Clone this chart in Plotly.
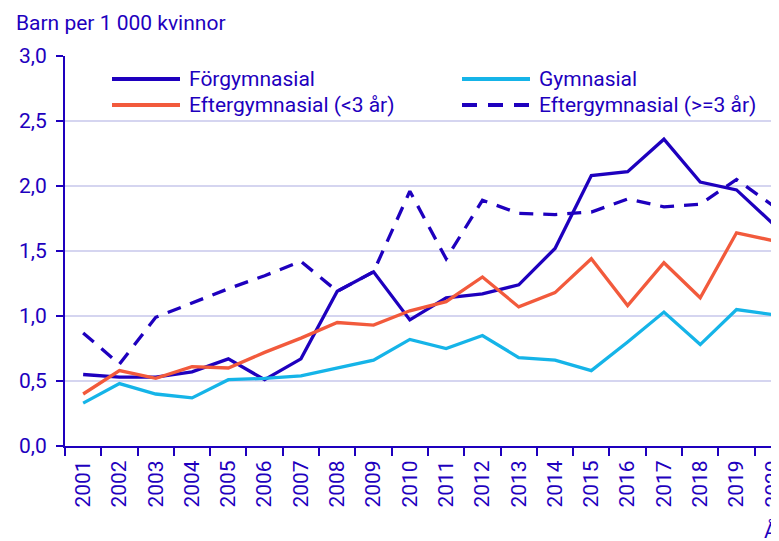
import plotly.graph_objects as go

years = [str(y) for y in range(2001, 2021)]
forgymnasial = [0.55, 0.53, 0.53, 0.57, 0.67, 0.51, 0.67, 1.19, 1.34, 0.97,
                1.14, 1.17, 1.24, 1.52, 2.08, 2.11, 2.36, 2.03, 1.97, 1.71]
gymnasial = [0.33, 0.48, 0.40, 0.37, 0.51, 0.52, 0.54, 0.60, 0.66, 0.82,
             0.75, 0.85, 0.68, 0.66, 0.58, 0.80, 1.03, 0.78, 1.05, 1.01]
efter_lt3 = [0.40, 0.58, 0.52, 0.61, 0.60, 0.72, 0.83, 0.95, 0.93, 1.04,
             1.11, 1.30, 1.07, 1.18, 1.44, 1.08, 1.41, 1.14, 1.64, 1.58]
efter_ge3 = [0.87, 0.63, 0.99, 1.10, 1.21, 1.31, 1.42, 1.19, 1.34, 1.96,
             1.44, 1.89, 1.79, 1.78, 1.80, 1.90, 1.84, 1.86, 2.05, 1.85]
y_ticks = [0.0, 0.5, 1.0, 1.5, 2.0, 2.5, 3.0]

DARK = "#1E00BE"
LIGHT = "#15B4E8"
ORANGE = "#F25A3C"
GRID = "#D5D5F0"
FONT = "Roboto"

# the page body has an 8px margin; size the figure so it fills the window
OFF = 8
W, H = 779 - OFF, 541 - OFF
# plot area in window pixels: x 65..779, y 56..446
L, R, T, B = 65 - OFF, 0, 56 - OFF, 541 - 446
pw, ph = W - L - R, H - T - B

series = [
    ("Förgymnasial", forgymnasial, DARK, "solid"),
    ("Gymnasial", gymnasial, LIGHT, "solid"),
    ("Eftergymnasial (<3 år)", efter_lt3, ORANGE, "solid"),
    ("Eftergymnasial (>=3 år)", efter_ge3, DARK, "14px,10px"),
]

fig = go.Figure()
for name, vals, col, dash in series:
    fig.add_trace(go.Scatter(x=years, y=vals, mode="lines", name=name,
                             line=dict(color=col, width=3.3, dash=dash),
                             showlegend=False))

def px_x(p):  # window pixel -> paper
    return (p - OFF - L) / pw

def px_y(p):
    return (H - B - (p - OFF)) / ph

# manual legend (two columns)
legend_items = [
    (series[0], 112, 79),
    (series[2], 112, 105),
    (series[1], 462, 79),
    (series[3], 462, 105),
]
shapes = []
annotations = []
for (name, vals, col, dash), x0, yy in legend_items:
    shapes.append(dict(type="line", xref="paper", yref="paper",
                       x0=px_x(x0), x1=px_x(x0 + 68), y0=px_y(yy), y1=px_y(yy),
                       line=dict(color=col, width=4,
                                 dash="15px,11px" if dash != "solid" else "solid")))
    annotations.append(dict(text=name, xref="paper", yref="paper",
                            x=px_x(x0 + 75), y=px_y(yy), xanchor="left", yanchor="middle",
                            showarrow=False, font=dict(family=FONT, size=21, color=DARK)))

annotations.append(dict(text="Barn per 1 000 kvinnor", xref="paper", yref="paper",
                        x=px_x(14), y=px_y(37), xanchor="left", yanchor="bottom",
                        showarrow=False, font=dict(family=FONT, size=21, color=DARK)))
annotations.append(dict(text="År", xref="paper", yref="paper",
                        x=px_x(762), y=px_y(517), xanchor="left", yanchor="top",
                        showarrow=False, font=dict(family=FONT, size=21, color=DARK)))

fig.update_layout(
    width=W, height=H,
    margin=dict(l=L, r=R, t=T, b=B, pad=0, autoexpand=False),
    paper_bgcolor="white", plot_bgcolor="white",
    separators=", ",
    font=dict(family=FONT, size=21, color=DARK),
    shapes=shapes, annotations=annotations,
    showlegend=False,
)
fig.update_xaxes(
    type="category", range=[-0.5, 19.17], automargin=False,
    tickson="boundaries", ticks="outside", ticklen=8, tickwidth=2, tickcolor=DARK,
    tickangle=-90, showline=True, linecolor=DARK, linewidth=2,
    showgrid=False, zeroline=False, ticklabelstandoff=4,
    tickfont=dict(family=FONT, size=21, color=DARK),
)
fig.update_yaxes(
    range=[0, 3], tickvals=y_ticks, tickformat=".1f", automargin=False,
    ticks="outside", ticklen=7, tickwidth=2, tickcolor=DARK,
    showline=True, linecolor=DARK, linewidth=2, ticklabelstandoff=5,
    showgrid=True, gridcolor=GRID, gridwidth=2, zeroline=False,
    tickfont=dict(family=FONT, size=21, color=DARK),
)

fig.write_html("out.html")
